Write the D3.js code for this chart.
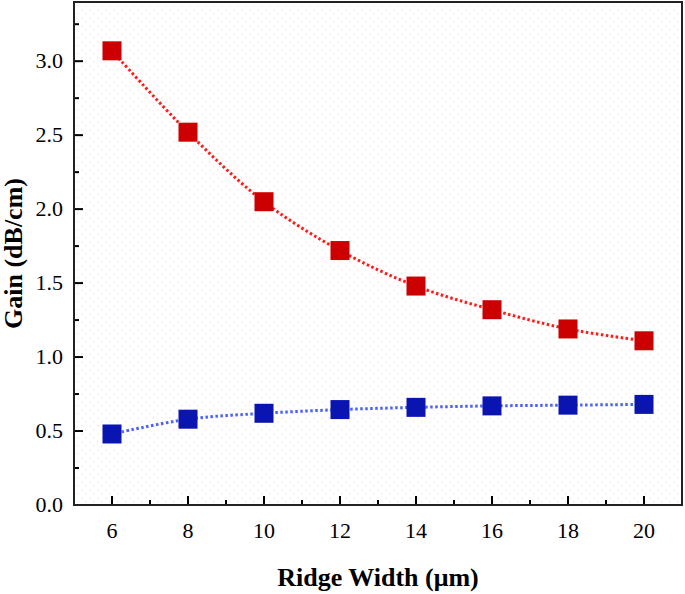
<!DOCTYPE html>
<html><head><meta charset="utf-8">
<script src="https://cdn.jsdelivr.net/npm/d3@7"></script>
<style>body{margin:0;background:#fff}</style>
</head><body>
<svg id="c" width="685" height="594"></svg>
<script>
const widths = [6, 8, 10, 12, 14, 16, 18, 20];
const gainRed = [3.07, 2.52, 2.05, 1.72, 1.48, 1.32, 1.19, 1.11];
const gainBlue = [0.48, 0.58, 0.62, 0.645, 0.66, 0.67, 0.675, 0.68];
const xTicks = [6, 8, 10, 12, 14, 16, 18, 20];
const yTicks = [0.0, 0.5, 1.0, 1.5, 2.0, 2.5, 3.0];
const xTitle = "Ridge Width (\u03bcm)";
const yTitle = "Gain (dB/cm)";

const svg = d3.select("#c");
const L = 74, R = 682, T = 2, B = 505;
const x = d3.scaleLinear().domain([5, 21]).range([L, R]);
const y = d3.scaleLinear().domain([0, 3.4]).range([B, T]);

const defs = svg.append("defs");
const pat = defs.append("pattern").attr("id", "dots").attr("patternUnits", "userSpaceOnUse")
  .attr("width", 8).attr("height", 8);
pat.append("rect").attr("x", 1).attr("y", 1).attr("width", 1.5).attr("height", 1.5).attr("fill", "#fbe3e8");
pat.append("rect").attr("x", 5).attr("y", 5).attr("width", 1.5).attr("height", 1.5).attr("fill", "#fcebee");
svg.append("rect").attr("x", L).attr("y", T).attr("width", R - L).attr("height", B - T).attr("fill", "url(#dots)");

const font = "'Liberation Serif','Times New Roman',serif";

// ticks
const g = svg.append("g").attr("stroke", "#000").attr("stroke-width", 2);
xTicks.forEach(v => g.append("line").attr("x1", x(v)).attr("x2", x(v)).attr("y1", B).attr("y2", B - 9));
d3.range(7, 21, 2).forEach(v => g.append("line").attr("x1", x(v)).attr("x2", x(v)).attr("y1", B).attr("y2", B - 5));
yTicks.forEach(v => g.append("line").attr("x1", L).attr("x2", L + 9).attr("y1", y(v)).attr("y2", y(v)));
d3.range(0.25, 3.4, 0.5).forEach(v => g.append("line").attr("x1", L).attr("x2", L + 5).attr("y1", y(v)).attr("y2", y(v)));

// frame
svg.append("rect").attr("x", L).attr("y", T).attr("width", R - L).attr("height", B - T)
  .attr("fill", "none").attr("stroke", "#222").attr("stroke-width", 2);

// tick labels
svg.append("g").selectAll("text").data(xTicks).join("text")
  .attr("x", d => x(d)).attr("y", 538).attr("text-anchor", "middle")
  .attr("font-family", font).attr("font-size", 22).text(d => d);
svg.append("g").selectAll("text").data(yTicks).join("text")
  .attr("x", 63).attr("y", d => y(d) + 7).attr("text-anchor", "end")
  .attr("font-family", font).attr("font-size", 22).text(d => d.toFixed(1));

// titles
svg.append("text").attr("x", 378).attr("y", 586).attr("text-anchor", "middle")
  .attr("font-family", font).attr("font-weight", "bold").attr("font-size", 26).text(xTitle);
svg.append("text").attr("transform", `translate(22,${(T + B) / 2}) rotate(-90)`).attr("text-anchor", "middle")
  .attr("font-family", font).attr("font-weight", "bold").attr("font-size", 26).text(yTitle);

// series
const series = [
  { vals: gainRed, line: "#ff1a1a", fill: "#cc0000" },
  { vals: gainBlue, line: "#4a62ff", fill: "#0a14b0" }
];
const lineGen = d3.line().x(d => x(d[0])).y(d => y(d[1])).curve(d3.curveCatmullRom);
series.forEach(s => {
  const pts = widths.map((w, i) => [w, s.vals[i]]);
  svg.append("path").attr("d", lineGen(pts)).attr("fill", "none")
    .attr("stroke", s.line).attr("stroke-width", 3).attr("stroke-dasharray", "2.5,2.5");
  svg.append("g").selectAll("rect").data(pts).join("rect")
    .attr("x", d => x(d[0]) - 9.5).attr("y", d => y(d[1]) - 9.5)
    .attr("width", 19).attr("height", 19).attr("fill", s.fill);
});
</script>
</body></html>
